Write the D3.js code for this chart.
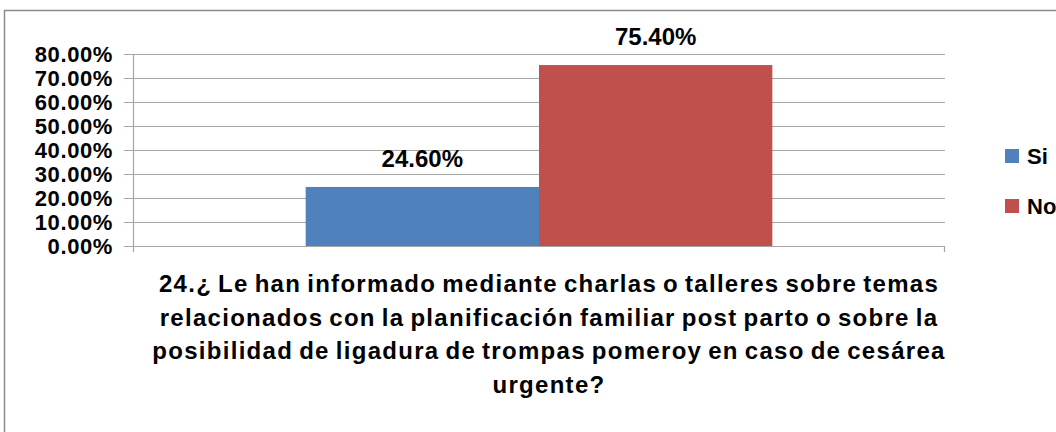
<!DOCTYPE html>
<html>
<head>
<meta charset="utf-8">
<script src="https://cdn.jsdelivr.net/npm/d3@7"></script>
<style>
body { margin: 0; background: #fff; }
text { font-family: "Liberation Sans", Arial, sans-serif; font-weight: bold; fill: #000; }
</style>
</head>
<body>
<div id="vis"></div>
<script>
var width = 1056;
var height = 432;

// data
var categories = ["24"];
var seriesNames = ["Si", "No"];
var seriesValues = [0.246, 0.754];
var seriesColors = ["#4F81BD", "#C0504D"];
var yTicks = [0, 0.1, 0.2, 0.3, 0.4, 0.5, 0.6, 0.7, 0.8];
var titleLines = [
    "24.¿ Le han informado mediante charlas o talleres sobre temas",
    "relacionados con la planificación familiar post parto o sobre la",
    "posibilidad de ligadura de trompas pomeroy en caso de cesárea",
    "urgente?"
];

var plot = { left: 133, right: 945, top: 54, bottom: 246 };

var svg = d3.select('#vis')
    .append('svg')
    .attr('width', width)
    .attr('height', height);

// outer chart frame
svg.append('rect')
    .attr('x', 4.5)
    .attr('y', 10.5)
    .attr('width', 1100)
    .attr('height', 500)
    .attr('fill', 'none')
    .attr('stroke', '#8c8c8c')
    .attr('stroke-width', 1.5);

var y = d3.scaleLinear().domain([0, 0.8]).range([plot.bottom, plot.top]);
var x0 = d3.scaleBand().domain(categories).range([plot.left, plot.right]).paddingInner(0).paddingOuter(0.37);
var x1 = d3.scaleBand().domain(seriesNames).range([0, x0.bandwidth()]);

// gridlines
svg.append('g').selectAll('line')
    .data(yTicks)
    .enter().append('line')
    .attr('x1', plot.left - 9)
    .attr('x2', plot.right)
    .attr('y1', function (d) { return Math.round(y(d)) + 0.5; })
    .attr('y2', function (d) { return Math.round(y(d)) + 0.5; })
    .attr('stroke', '#a6a6a6')
    .attr('stroke-width', 1.2);

// y axis
var yAxis = d3.axisLeft(y)
    .tickValues(yTicks)
    .tickSize(0)
    .tickPadding(20)
    .tickFormat(d3.format('.2%'));

var gy = svg.append('g')
    .attr('transform', 'translate(' + plot.left + ',0)')
    .call(yAxis);
gy.select('.domain').remove();
gy.selectAll('text')
    .style('font-size', '22px')
    .style('letter-spacing', '0.6px')
    .attr('dy', '0.36em');

svg.append('line')
    .attr('x1', plot.left + 0.5).attr('x2', plot.left + 0.5)
    .attr('y1', plot.top).attr('y2', plot.bottom + 6)
    .attr('stroke', '#a6a6a6').attr('stroke-width', 1.2);
svg.append('line')
    .attr('x1', plot.right - 0.5).attr('x2', plot.right - 0.5)
    .attr('y1', plot.bottom).attr('y2', plot.bottom + 6)
    .attr('stroke', '#a6a6a6').attr('stroke-width', 1.2);

// bars
var group = svg.append('g')
    .attr('transform', 'translate(' + x0(categories[0]) + ',0)');

group.selectAll('rect')
    .data(seriesValues)
    .enter().append('rect')
    .attr('x', function (d, i) { return x1(seriesNames[i]); })
    .attr('y', function (d) { return y(d); })
    .attr('width', x1.bandwidth())
    .attr('height', function (d) { return plot.bottom - y(d); })
    .attr('fill', function (d, i) { return seriesColors[i]; });

group.selectAll('text.value')
    .data(seriesValues)
    .enter().append('text')
    .attr('class', 'value')
    .attr('x', function (d, i) { return x1(seriesNames[i]) + x1.bandwidth() / 2; })
    .attr('y', function (d) { return y(d) - 20; })
    .attr('text-anchor', 'middle')
    .style('font-size', '24px')
    .text(d3.format('.2%'));

// legend
var legend = svg.append('g').selectAll('g')
    .data(seriesNames)
    .enter().append('g')
    .attr('transform', function (d, i) { return 'translate(1005,' + (149 + i * 50) + ')'; });
legend.append('rect')
    .attr('width', 14)
    .attr('height', 14)
    .attr('fill', function (d, i) { return seriesColors[i]; });
legend.append('text')
    .attr('x', 22)
    .attr('y', 15)
    .style('font-size', '22px')
    .text(function (d) { return d; });

// category title under the axis
svg.append('g').selectAll('text')
    .data(titleLines)
    .enter().append('text')
    .attr('x', 549)
    .attr('y', function (d, i) { return 292 + i * 33.5; })
    .attr('text-anchor', 'middle')
    .style('font-size', '24px')
    .style('letter-spacing', '1.3px')
    .style('word-spacing', '-2px')
    .text(function (d) { return d; });
</script>
</body>
</html>
